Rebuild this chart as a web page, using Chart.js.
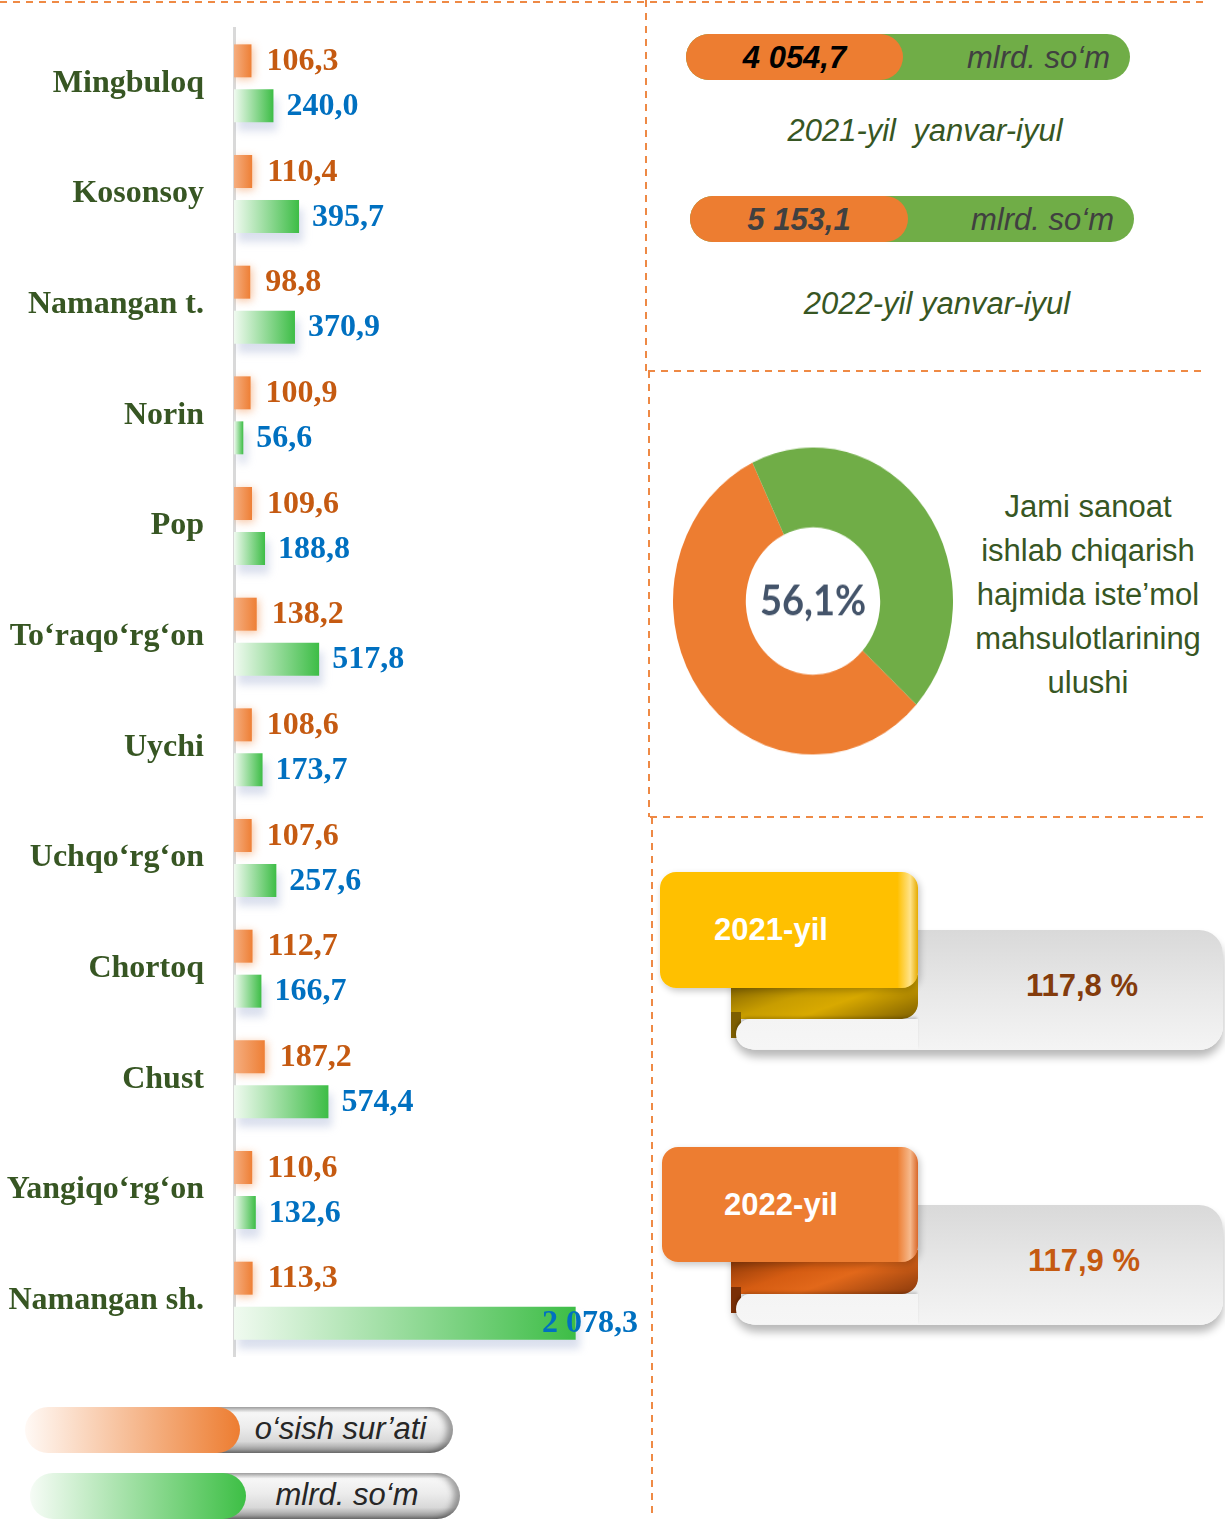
<!DOCTYPE html>
<html lang="uz">
<head>
<meta charset="utf-8">
<title>Iste'mol mahsulotlari ishlab chiqarish</title>
<script src="https://cdn.jsdelivr.net/npm/chart.js"></script>
<style>
  html, body { margin: 0; padding: 0; background: #fff; }
  body { width: 1225px; height: 1519px; position: relative; overflow: hidden;
         font-family: "Liberation Sans", Arial, sans-serif; }
  .abs { position: absolute; }

  /* top right pills */
  .pill { position: absolute; height: 46px; width: 444px; border-radius: 23px; background: #70ad47; }
  .pill-val { position: absolute; left: 0; top: 0; height: 46px; border-radius: 23px; background: #ed7d31;
              font: italic bold 31px/47px "Liberation Sans", Arial, sans-serif; text-align: center; }
  .pill-unit { position: absolute; right: 20px; top: 0; color: #404040;
               font: italic 31px/47px "Liberation Sans", Arial, sans-serif; }
  .period { position: absolute; width: 500px; text-align: center; white-space: pre; color: #375623;
            font: italic 31px/38px "Liberation Sans", Arial, sans-serif; }

  .share-text { position: absolute; left: 958px; top: 485px; width: 260px; text-align: center;
                font: 31px/44px "Liberation Sans", Arial, sans-serif; color: #375623; }

  /* ribbons */
  .rb-bar { position: absolute; width: 490px; height: 120px; border-radius: 24px;
            background: linear-gradient(to bottom, #d9d9d9 0%, #e9e9e9 55%, #f4f4f4 100%);
            box-shadow: 0 7px 9px rgba(0,0,0,0.28); }
  .rb-fold { position: absolute; width: 187px; height: 44px; border-radius: 0 0 16px 0; }
  .rb-strip { position: absolute; width: 10px; height: 26px; }
  .rb-curl { position: absolute; width: 182px; height: 30px; border-radius: 16px 0 0 16px;
             background: linear-gradient(to bottom, #f4f4f4, #f6f6f6);
             box-shadow: -1px -2px 3px rgba(0,0,0,0.18); }
  .rb-tab { position: absolute; border-radius: 16px; color: #fff; box-shadow: 2px 3px 7px rgba(0,0,0,0.22);
            font: bold 31px "Liberation Sans", Arial, sans-serif; display: flex; align-items: center;
            justify-content: center; box-sizing: border-box; padding-right: 36px; }
  .rb-val { position: absolute; width: 284px; height: 120px; text-align: center;
            font: bold 31px/112px "Liberation Sans", Arial, sans-serif; }

  /* legend pills */
  .lg { position: absolute; height: 46px; }
  .lg-grey { position: absolute; left: 170px; right: 0; top: 0; bottom: 0; border-radius: 23px;
             background: linear-gradient(to bottom, #bcbcbc 0%, #f7f7f7 12%, #ececec 45%, #d8d8d8 75%, #a3a3a3 92%, #7c7c7c 100%);
             box-shadow: inset -6px 0 6px rgba(0,0,0,0.35); }
  .lg-bar { position: absolute; left: 0; top: 0; bottom: 0; border-radius: 23px; }
  .lg-text { position: absolute; right: 12px; top: 0; text-align: center; color: #262626;
             font: italic 31px/44px "Liberation Sans", Arial, sans-serif; }
</style>
</head>
<body>

<svg class="abs" style="left:0;top:0" width="1225" height="1519">
  <g stroke="#ed7d31" stroke-width="2" stroke-dasharray="7 6" fill="none" opacity="0.9">
    <line x1="0" y1="2" x2="1205" y2="2"/>
    <line x1="646" y1="0" x2="646" y2="371"/>
    <line x1="649" y1="371" x2="649" y2="817"/>
    <line x1="652" y1="817" x2="652" y2="1519"/>
    <line x1="648" y1="371" x2="1202" y2="371"/>
    <line x1="650" y1="817" x2="1205" y2="817"/>
  </g>
</svg>

<canvas id="bars" class="abs" style="left:0;top:0" width="650" height="1380"></canvas>

<!-- jami hajm -->
<div class="pill" style="left:686px;top:34px;">
  <div class="pill-val" id="total0" style="width:217px;color:#000;"></div>
  <div class="pill-unit">mlrd. so‘m</div>
</div>
<div class="period" id="period0" style="left:675px;top:112px;"></div>
<div class="pill" style="left:690px;top:196px;">
  <div class="pill-val" id="total1" style="width:218px;color:#404040;"></div>
  <div class="pill-unit">mlrd. so‘m</div>
</div>
<div class="period" id="period1" style="left:687px;top:285px;"></div>

<!-- ulush -->
<div class="abs" style="left:673px;top:461px;width:280px;height:280px;transform:scaleY(1.096);transform-origin:50% 50%;">
  <canvas id="donut" width="280" height="280"></canvas>
</div>
<div class="share-text">Jami sanoat<br>ishlab chiqarish<br>hajmida iste’mol<br>mahsulotlarining<br>ulushi</div>

<!-- o'sish sur'ati, 2021 -->
<div class="rb-bar" style="left:733px;top:930px;"></div>
<div class="rb-fold" style="left:731px;top:975px;background:linear-gradient(160deg,#6f5300 0%,#c89d00 40%,#d8a900 60%,#7d5e00 100%);"></div>
<div class="rb-strip" style="left:731px;top:1012px;background:#7d5e00;"></div>
<div class="rb-curl" style="left:736px;top:1019px;"></div>
<div class="rb-tab" id="year0" style="left:660px;top:872px;width:258px;height:116px;background:linear-gradient(to right,#ffc000 0%,#ffc000 92%,#ffe38a 97%,#e6ab00 100%);"></div>
<div class="rb-val" id="yg0" style="left:940px;top:930px;color:#843c0c;"></div>

<!-- o'sish sur'ati, 2022 -->
<div class="rb-bar" style="left:733px;top:1205px;"></div>
<div class="rb-fold" style="left:731px;top:1250px;background:linear-gradient(160deg,#7a2f06 0%,#d55c12 40%,#e2681a 60%,#8a3a0c 100%);"></div>
<div class="rb-strip" style="left:731px;top:1287px;background:#7a2f06;"></div>
<div class="rb-curl" style="left:736px;top:1294px;"></div>
<div class="rb-tab" id="year1" style="left:662px;top:1147px;width:256px;height:115px;background:linear-gradient(to right,#ed7d31 0%,#ed7d31 92%,#f6b98c 97%,#d9682a 100%);padding-right:18px;"></div>
<div class="rb-val" id="yg1" style="left:942px;top:1205px;color:#c55a11;"></div>

<!-- legend -->
<div class="lg" style="left:25px;top:1407px;width:428px;">
  <div class="lg-grey"></div>
  <div class="lg-bar" style="width:215px;background:linear-gradient(to right,#fff9f5,#ed7d31);"></div>
  <div class="lg-text" id="lg0" style="left:215px;"></div>
</div>
<div class="lg" style="left:30px;top:1473px;width:430px;">
  <div class="lg-grey"></div>
  <div class="lg-bar" style="width:216px;background:linear-gradient(to right,#f6fcf6,#3dbf45);"></div>
  <div class="lg-text" id="lg1" style="left:216px;"></div>
</div>

<script>
// tumanlar (shaharlar)
const categories = ['Mingbuloq', 'Kosonsoy', 'Namangan t.', 'Norin', 'Pop', 'To‘raqo‘rg‘on',
    'Uychi', 'Uchqo‘rg‘on', 'Chortoq', 'Chust', 'Yangiqo‘rg‘on', 'Namangan sh.'];
// o'sish sur'ati, %
const growthRate = [106.3, 110.4, 98.8, 100.9, 109.6, 138.2, 108.6, 107.6, 112.7, 187.2, 110.6, 113.3];
// hajm, mlrd. so'm
const volume = [240.0, 395.7, 370.9, 56.6, 188.8, 517.8, 173.7, 257.6, 166.7, 574.4, 132.6, 2078.3];
const seriesNames = ['o‘sish sur’ati', 'mlrd. so‘m'];
const axisMax = 2500;

// ulush (doughnut)
const shareLabels = ['Iste’mol mahsulotlari', 'Boshqa mahsulotlar'];
const shareValues = [56.1, 43.9];

const periods = ['2021-yil  yanvar-iyul', '2022-yil yanvar-iyul'];
const totals = [4054.7, 5153.1];
const years = ['2021-yil', '2022-yil'];
const yearGrowth = [117.8, 117.9];

function fmt(v) {
    const parts = v.toFixed(1).split('.');
    return parts[0].replace(/\B(?=(\d{3})+(?!\d))/g, ' ') + ',' + parts[1];
}

document.getElementById('total0').textContent = fmt(totals[0]);
document.getElementById('total1').textContent = fmt(totals[1]);
document.getElementById('period0').textContent = periods[0];
document.getElementById('period1').textContent = periods[1];
document.getElementById('year0').textContent = years[0];
document.getElementById('year1').textContent = years[1];
document.getElementById('yg0').textContent = fmt(yearGrowth[0]) + ' %';
document.getElementById('yg1').textContent = fmt(yearGrowth[1]) + ' %';
document.getElementById('lg0').textContent = seriesNames[0];
document.getElementById('lg1').textContent = seriesNames[1];

const serif = '"Liberation Serif", "Times New Roman", serif';

// each bar gets its own left-to-right gradient
function barFill(from, to) {
    return function (c) {
        if (c.type !== 'data') return to;
        const x = c.chart.scales.x;
        if (!x) return to;
        const x0 = x.getPixelForValue(0), x1 = x.getPixelForValue(c.raw);
        if (!isFinite(x0) || !isFinite(x1) || x0 === x1) return to;
        const g = c.chart.ctx.createLinearGradient(x0, 0, x1, 0);
        g.addColorStop(0, from);
        g.addColorStop(1, to);
        return g;
    };
}

const barShadow = {
    id: 'barShadow',
    beforeDatasetDraw(chart, args) {
        const ctx = chart.ctx;
        ctx.save();
        if (args.index === 0) {
            ctx.shadowColor = 'rgba(237,125,49,0.45)';
            ctx.shadowBlur = 8;
            ctx.shadowOffsetX = 2;
            ctx.shadowOffsetY = 2;
        } else {
            ctx.shadowColor = 'rgba(150,165,205,0.35)';
            ctx.shadowBlur = 8;
            ctx.shadowOffsetX = 4;
            ctx.shadowOffsetY = 9;
        }
    },
    afterDatasetDraw(chart) {
        chart.ctx.restore();
    }
};

const barLabels = {
    id: 'barLabels',
    afterDatasetsDraw(chart) {
        const ctx = chart.ctx;
        ctx.save();
        ctx.font = 'bold 32px ' + serif;
        ctx.textBaseline = 'middle';
        ctx.textAlign = 'left';
        chart.data.datasets.forEach(function (ds, i) {
            chart.getDatasetMeta(i).data.forEach(function (bar, j) {
                const txt = fmt(ds.data[j]);
                const w = ctx.measureText(txt).width;
                const x = Math.min(bar.x + ds.labelGap, chart.chartArea.right - 7 - w);
                ctx.fillStyle = ds.labelColor;
                ctx.fillText(txt, x, bar.y + 1);
            });
        });
        ctx.restore();
    }
};

const barChart = new Chart(document.getElementById('bars'), {
    type: 'bar',
    data: {
        labels: categories,
        datasets: [{
            label: seriesNames[0],
            data: growthRate,
            backgroundColor: barFill('#f5ae80', '#ee7f35'),
            categoryPercentage: 0.813,
            barPercentage: 0.733,
            labelColor: '#c55a11',
            labelGap: 15
        }, {
            label: seriesNames[1],
            data: volume,
            backgroundColor: barFill('#f0faf0', '#3dbd46'),
            categoryPercentage: 0.813,
            barPercentage: 0.733,
            labelColor: '#0070c0',
            labelGap: 13
        }]
    },
    options: {
        indexAxis: 'y',
        responsive: false,
        animation: false,
        layout: { padding: { top: 28, bottom: 24, right: 5 } },
        plugins: { legend: { display: false }, tooltip: { enabled: false } },
        scales: {
            x: { display: false, min: 0, max: axisMax },
            y: {
                afterFit: function (s) {
                    s.width = 234;
                    s.paddingTop = 0;
                    s.paddingBottom = 0;
                },
                grid: { drawOnChartArea: false, drawTicks: false },
                border: { display: true, color: '#d9d9d9', width: 3 },
                ticks: { padding: 30, color: '#375623', font: { family: serif, size: 32, weight: 'bold' } }
            }
        }
    },
    plugins: [barShadow, barLabels]
});
// second pass so the gradients see finished scales
barChart.update();

const centerText = {
    id: 'centerText',
    afterDraw(chart) {
        const arc = chart.getDatasetMeta(0).data[0];
        const ctx = chart.ctx;
        ctx.save();
        ctx.font = 'bold 38px Lato, "Open Sans", sans-serif';
        ctx.fillStyle = '#44546a';
        ctx.textAlign = 'center';
        ctx.textBaseline = 'middle';
        ctx.fillText(fmt(shareValues[0]) + '%', arc.x, arc.y + 1);
        ctx.restore();
    }
};

new Chart(document.getElementById('donut'), {
    type: 'doughnut',
    data: {
        labels: shareLabels,
        datasets: [{ data: shareValues, backgroundColor: ['#ed7d31', '#70ad47'], borderWidth: 0 }]
    },
    options: {
        responsive: false,
        animation: false,
        cutout: '48%',
        rotation: 132.4,
        plugins: { legend: { display: false }, tooltip: { enabled: false } }
    },
    plugins: [centerText]
});
</script>
</body>
</html>
